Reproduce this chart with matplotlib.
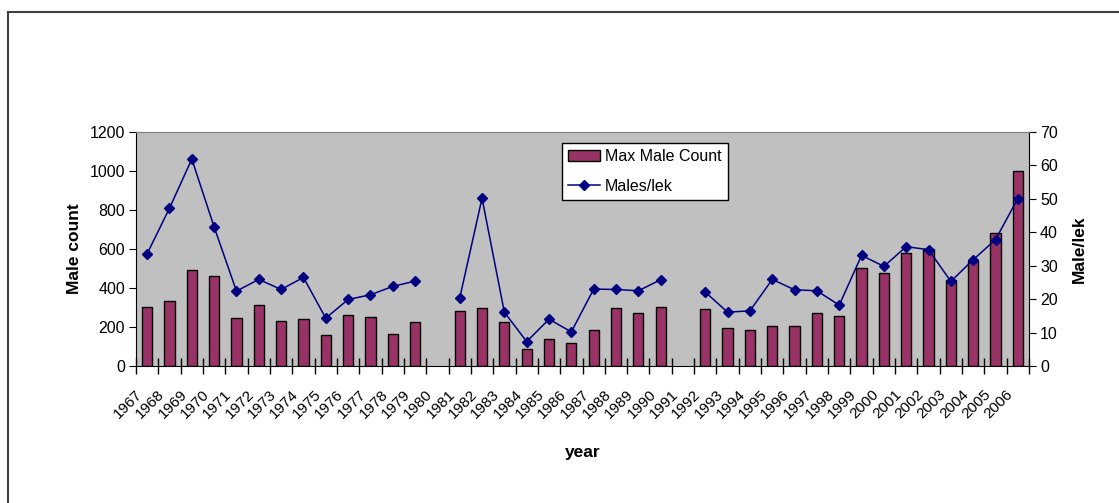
import numpy as np
import matplotlib
matplotlib.use('Agg')
import matplotlib.pyplot as plt
from matplotlib.patches import Rectangle
from matplotlib.transforms import ScaledTranslation

plt.rcParams['font.family'] = ['Liberation Sans', 'DejaVu Sans']

years = list(range(1967, 2007))
nan = np.nan
# max male count per year (left axis), gaps in 1980 and 1991
max_count = [305, 334, 493, 459, 247, 313, 233, 240, 159, 262, 253, 166, 226, nan,
             284, 300, 226, 87, 139, 116, 183, 298, 271, 305, nan,
             291, 197, 183, 204, 204, 271, 255, 504, 475, 578, 602, 439, 540, 680, 998]
# males per lek (right axis)
males_per_lek = [33.6, 47.2, 61.9, 41.6, 22.4, 25.9, 22.9, 26.5, 14.3, 19.9, 21.3, 23.8, 25.4, nan,
                 20.3, 50.2, 16.1, 7.3, 14.0, 10.2, 23.0, 22.9, 22.5, 25.8, nan,
                 22.1, 16.1, 16.5, 25.9, 22.8, 22.5, 18.2, 33.1, 29.8, 35.7, 34.8, 25.3, 31.8, 37.8, 50.1]

fig = plt.figure(figsize=(11.19, 5.03), dpi=100)
ax = fig.add_axes([136 / 1119, 1 - 366 / 503, 893 / 1119, 234 / 503])
ax2 = ax.twinx()

x = np.arange(len(years))
bars = ax.bar(x, max_count, width=0.46, color='#993366', edgecolor='black',
              linewidth=1.0, label='Max Male Count', zorder=2)
line, = ax2.plot(x, males_per_lek, color='#000080', marker='D', markersize=5,
                 linewidth=1.1, label='Males/lek')

ax.set_facecolor('#C0C0C0')
ax.set_xlim(-0.5, len(years) - 0.5)
ax.set_ylim(0, 1200)
ax.set_yticks(range(0, 1201, 200))
ax2.set_ylim(0, 70)
ax2.set_yticks(range(0, 71, 10))

# category labels at centres, tick marks at boundaries
ax.set_xticks(x)
ax.set_xticklabels([str(y) for y in years], rotation=45, ha='right',
                   va='center', rotation_mode='anchor', fontsize=11)
ax.set_xticks(np.arange(-0.5, len(years)), minor=True)
ax.tick_params(axis='x', which='major', length=0, pad=19)
ax.tick_params(axis='x', which='minor', direction='inout', length=11, width=1)
off = ScaledTranslation(-0.07, 0, fig.dpi_scale_trans)
for lab in ax.get_xticklabels():
    lab.set_transform(lab.get_transform() + off)

ax.tick_params(axis='y', direction='out', length=5, labelsize=11.5, pad=3)
ax2.tick_params(axis='y', direction='out', length=5, labelsize=11.5, pad=3)

for sp in ['top']:
    ax.spines[sp].set_color('#808080')
    ax2.spines[sp].set_color('#808080')
ax.spines['right'].set_visible(False)
ax2.spines['left'].set_visible(False)
ax2.spines['bottom'].set_visible(False)

ax.set_xlabel('year', fontsize=12.5, fontweight='bold', labelpad=17)
ax.set_ylabel('Male count', fontsize=12.5, fontweight='bold', labelpad=5)
ax2.set_ylabel('Male/lek', fontsize=12.5, fontweight='bold', labelpad=10)

leg = ax2.legend([bars, line], ['Max Male Count', 'Males/lek'], loc='upper left',
                 bbox_to_anchor=(0.477, 0.953), fontsize=11.5, frameon=True,
                 fancybox=False, edgecolor='black', facecolor='white', framealpha=1,
                 handlelength=2.0, handletextpad=0.3, labelspacing=0.9,
                 borderpad=0.4, borderaxespad=0)
leg.get_frame().set_linewidth(1.0)

# outer chart border (left and top visible in the crop)
fig.add_artist(Rectangle((8 / 1119, -0.5), 2, 0.5 + 1 - 12 / 503, fill=False,
                         edgecolor='#404040', linewidth=1.5,
                         transform=fig.transFigure, clip_on=False))

fig.savefig('out.png', dpi=100)
